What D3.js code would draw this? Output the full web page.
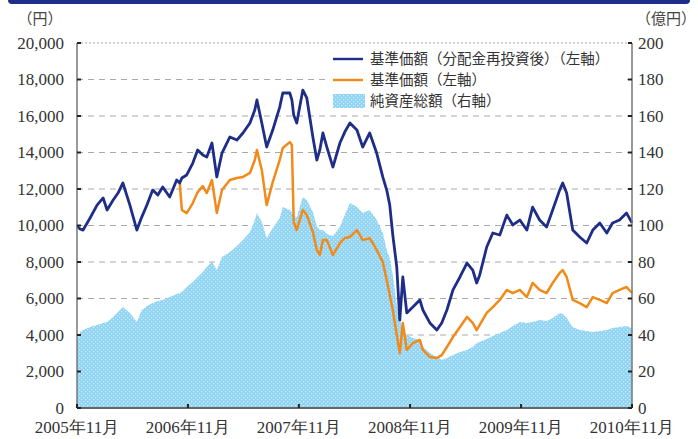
<!DOCTYPE html>
<html>
<head>
<meta charset="utf-8">
<script src="https://cdn.jsdelivr.net/npm/d3@7"></script>
<style>
  body { margin: 0; background: #fff; }
  svg { display: block; }
</style>
</head>
<body>
<script>
// observation dates
const dates = [
  "2005-11-01","2005-11-11","2005-11-21","2005-12-14","2006-01-06","2006-01-26","2006-02-08","2006-02-28",
  "2006-03-16","2006-04-01","2006-04-24","2006-05-17","2006-06-02","2006-06-19","2006-07-08","2006-07-25",
  "2006-08-10","2006-09-02","2006-09-25","2006-10-05","2006-10-12","2006-10-28","2006-11-17","2006-12-03",
  "2006-12-20","2007-01-02","2007-01-19","2007-02-04","2007-02-21","2007-03-19","2007-04-11","2007-05-01",
  "2007-05-24","2007-06-09","2007-06-16","2007-07-02","2007-07-18","2007-08-07","2007-08-30","2007-09-09",
  "2007-10-02","2007-10-09","2007-10-15","2007-10-25","2007-11-14","2007-11-27","2007-12-17","2007-12-30",
  "2008-01-09","2008-01-19","2008-02-01","2008-02-21","2008-03-15","2008-03-31","2008-04-17","2008-05-10",
  "2008-05-29","2008-06-21","2008-07-14","2008-08-03","2008-08-16","2008-08-26","2008-09-05","2008-09-18",
  "2008-09-28","2008-10-08","2008-10-21","2008-11-10","2008-12-03","2008-12-13","2009-01-05","2009-01-28",
  "2009-02-13","2009-03-02","2009-03-22","2009-04-14","2009-05-07","2009-05-26","2009-06-08","2009-06-18",
  "2009-07-11","2009-07-31","2009-08-23","2009-09-15","2009-10-05","2009-10-28","2009-11-20","2009-12-09",
  "2010-01-01","2010-01-24","2010-02-13","2010-03-08","2010-03-18","2010-03-31","2010-04-20","2010-05-13",
  "2010-06-05","2010-06-25","2010-07-18","2010-08-10","2010-08-29","2010-09-21","2010-10-14","2010-11-01"
];

// 基準価額(分配金再投資後) 円
const navReinvested = [
  9970,9810,9750,10410,11120,11510,10850,11400,
  11780,12330,11120,9750,10460,11120,11940,11670,
  12110,11560,12490,12330,12600,12770,13420,14140,
  13860,13750,14520,12660,13970,14850,14680,15070,
  15620,16330,16880,15620,14300,15230,16490,17260,
  17260,16880,16050,15620,17420,16990,14850,13590,
  14140,15070,14300,13200,14520,15120,15620,15230,
  14300,15070,13970,12660,11940,11120,9480,7730,
  4820,7180,5210,5530,5920,5370,4660,4270,
  4660,5370,6470,7180,7940,7560,6850,7290,
  8820,9590,9480,10570,10030,10300,9750,11010,
  10300,9920,10850,11940,12330,11780,9750,9370,
  9040,9750,10140,9590,10140,10300,10680,10140
];

// 基準価額 円 (diverges from reinvested series after first distribution)
const nav = [
  null,null,null,null,null,null,null,null,
  null,null,null,null,null,null,null,null,
  null,null,null,12330,10850,10680,11230,11830,
  12160,11780,12490,10680,11940,12490,12600,12660,
  12880,13590,14140,13040,11120,12380,13590,14250,
  14570,14410,10190,9750,10850,10570,9640,8660,
  8380,9200,9200,8380,9040,9310,9370,9750,
  9200,9310,8660,8000,7010,6190,5370,4000,
  3010,4660,3180,3560,3730,3180,2790,2740,
  2900,3340,3890,4440,4990,4660,4270,4550,
  5210,5530,5920,6470,6300,6470,6080,6850,
  6470,6300,6850,7400,7560,7180,5920,5750,
  5530,6080,5920,5750,6300,6470,6630,6300
];

// 純資産総額 億円
const netAssets = [
  36.7,41.6,42.7,44.4,45.5,46.6,47.1,49.9,
  52.6,55.3,52.1,47.1,53.7,55.9,57.5,58.6,
  59.2,60.8,62.5,63.0,63.6,66.3,69.0,71.8,
  74.5,77.3,80.0,75.6,82.7,85.5,88.8,92.1,
  96.4,103.0,106.8,101.9,93.2,98.6,104.1,110.1,
  108.5,107.4,105.2,104.7,115.6,114.0,107.4,99.7,
  97.5,97.5,95.3,94.2,99.2,105.8,112.3,110.1,
  106.8,108.5,103.0,95.9,86.6,82.2,72.9,56.4,
  48.2,42.7,40.0,38.4,37.3,33.4,30.1,27.9,
  26.3,27.4,29.0,30.7,31.8,33.4,35.6,36.2,
  37.8,39.5,41.1,42.7,44.9,47.1,46.6,47.1,
  48.2,47.7,49.3,52.1,51.5,49.3,44.4,42.7,
  42.2,41.6,42.2,42.7,43.8,44.4,44.9,43.8
];

const leftTicks = [0,2000,4000,6000,8000,10000,12000,14000,16000,18000,20000];
const rightTicks = [0,20,40,60,80,100,120,140,160,180,200];
const xTickDates = ["2005-11-01","2006-11-01","2007-11-01","2008-11-01","2009-11-01","2010-11-01"];
const xTickLabels = ["2005年11月","2006年11月","2007年11月","2008年11月","2009年11月","2010年11月"];
const legendLabels = ["基準価額（分配金再投資後）（左軸）","基準価額（左軸）","純資産総額（右軸）"];

const W = 698, H = 439;
const margin = { top: 43, right: 66, bottom: 31, left: 77 };
const width = W - margin.left - margin.right;
const height = H - margin.top - margin.bottom;

const parse = d3.timeParse("%Y-%m-%d");
const data = dates.map((d, i) => ({
  date: parse(d), a: navReinvested[i], b: nav[i], c: netAssets[i]
}));

const navy = "#1e2d87", orange = "#f28a1a";
const numFont = "'Liberation Serif','DejaVu Serif',serif";
const jpFont = "'Noto Sans CJK JP','Liberation Serif',serif";

const root = d3.select("body").append("svg").attr("width", W).attr("height", H);

// header bar remnant at the top
root.append("path")
  .attr("d", "M8,-6 L690,-6 L690,0 Q690,4 686,4 L12,4 Q8,4 8,0 Z")
  .attr("fill", navy);

const svg = root.append("g").attr("transform", `translate(${margin.left},${margin.top})`);

var x = d3.scaleTime().domain([parse("2005-11-01"), parse("2010-11-01")]).range([0, width]);
var yL = d3.scaleLinear().domain([0, 20000]).range([height, 0]);
var yR = d3.scaleLinear().domain([0, 200]).range([height, 0]);

// dotted fill pattern for the net assets area
const defs = root.append("defs");
const pat = defs.append("pattern").attr("id", "dots")
  .attr("width", 4).attr("height", 4).attr("patternUnits", "userSpaceOnUse");
pat.append("rect").attr("width", 4).attr("height", 4).attr("fill", "#8ed3f4");
pat.append("rect").attr("x", 0).attr("y", 0).attr("width", 1.3).attr("height", 1.3).attr("fill", "#d2effc");
pat.append("rect").attr("x", 2).attr("y", 2).attr("width", 1.3).attr("height", 1.3).attr("fill", "#d2effc");

// gridlines
svg.append("g").selectAll("line")
  .data(leftTicks.filter(t => t > 0))
  .enter().append("line")
  .attr("x1", 0).attr("x2", width)
  .attr("y1", d => yL(d)).attr("y2", d => yL(d))
  .attr("stroke", d => d === 20000 ? "#b9a4a4" : "#aaaaaa")
  .attr("stroke-width", 1)
  .attr("stroke-dasharray", d => d === 20000 ? "2,2" : "6,5");

// net assets area (right axis)
svg.append("path")
  .datum(data)
  .attr("fill", "url(#dots)")
  .attr("d", d3.area().x(d => x(d.date)).y0(height).y1(d => yR(d.c)));

// legend background covers gridlines
svg.append("rect")
  .attr("x", 253).attr("y", 2).attr("width", 296).attr("height", 66)
  .attr("fill", "#fff");

// lines
svg.append("path")
  .datum(data)
  .attr("fill", "none").attr("stroke", orange).attr("stroke-width", 2.5)
  .attr("stroke-linejoin", "round")
  .attr("d", d3.line().defined(d => d.b != null).x(d => x(d.date)).y(d => yL(d.b)));

svg.append("path")
  .datum(data)
  .attr("fill", "none").attr("stroke", navy).attr("stroke-width", 2.8)
  .attr("stroke-linejoin", "round")
  .attr("d", d3.line().x(d => x(d.date)).y(d => yL(d.a)));

// axis frame
svg.append("line").attr("x1", 0).attr("x2", 0).attr("y1", 0).attr("y2", height)
  .attr("stroke", "#777").attr("stroke-width", 1.5);
svg.append("line").attr("x1", width).attr("x2", width).attr("y1", 0).attr("y2", height)
  .attr("stroke", "#777").attr("stroke-width", 1.5);
svg.append("line").attr("x1", 0).attr("x2", width).attr("y1", height).attr("y2", height)
  .attr("stroke", "#666").attr("stroke-width", 2);

// inward tick marks
svg.append("g").selectAll("line").data(leftTicks).enter().append("line")
  .attr("x1", 0).attr("x2", 4).attr("y1", d => yL(d)).attr("y2", d => yL(d))
  .attr("stroke", "#222").attr("stroke-width", 2);
svg.append("g").selectAll("line").data(rightTicks).enter().append("line")
  .attr("x1", width - 4).attr("x2", width).attr("y1", d => yR(d)).attr("y2", d => yR(d))
  .attr("stroke", "#222").attr("stroke-width", 2);
svg.append("g").selectAll("line").data(xTickDates).enter().append("line")
  .attr("x1", d => x(parse(d))).attr("x2", d => x(parse(d)))
  .attr("y1", height - 4).attr("y2", height)
  .attr("stroke", "#222").attr("stroke-width", 2);

// tick labels
const fmt = d3.format(",");
svg.append("g").selectAll("text").data(leftTicks).enter().append("text")
  .attr("x", -13).attr("y", d => yL(d)).attr("dy", "0.35em")
  .attr("text-anchor", "end")
  .style("font-family", numFont).style("font-size", "17px").attr("fill", "#333")
  .text(d => fmt(d));

svg.append("g").selectAll("text").data(rightTicks).enter().append("text")
  .attr("x", width + 6).attr("y", d => yR(d)).attr("dy", "0.35em")
  .attr("text-anchor", "start")
  .style("font-family", numFont).style("font-size", "17px").attr("fill", "#333")
  .text(d => d);

svg.append("g").selectAll("text").data(xTickDates).enter().append("text")
  .attr("x", d => x(parse(d))).attr("y", height + 25)
  .attr("text-anchor", "middle")
  .style("font-family", numFont).style("font-size", "17px").attr("fill", "#333")
  .text((d, i) => xTickLabels[i]);

// unit labels
root.append("text").attr("x", 40).attr("y", 24).attr("text-anchor", "middle")
  .style("font-family", jpFont).style("font-size", "15px").attr("fill", "#444")
  .text("（円）");
root.append("text").attr("x", 666).attr("y", 24).attr("text-anchor", "middle")
  .style("font-family", jpFont).style("font-size", "15px").attr("fill", "#444")
  .text("（億円）");

// legend
var legend = svg.selectAll(".legend")
  .data(legendLabels)
  .enter().append("g")
  .attr("class", "legend")
  .attr("transform", function(d, i) { return "translate(256," + (16 + i * 21) + ")"; });

legend.each(function(d, i) {
  var g = d3.select(this);
  if (i < 2) {
    g.append("line").attr("x1", 0).attr("x2", 30).attr("y1", 0).attr("y2", 0)
      .attr("stroke", i === 0 ? navy : orange).attr("stroke-width", 2.4);
  } else {
    g.append("rect").attr("x", 0).attr("y", -7).attr("width", 32).attr("height", 14)
      .attr("fill", "url(#dots)");
  }
});

legend.append("text")
  .attr("x", 37).attr("y", 0).attr("dy", "0.35em")
  .style("font-family", jpFont).style("font-size", "14.5px").attr("fill", "#333")
  .text(function(d) { return d; });
</script>
</body>
</html>
